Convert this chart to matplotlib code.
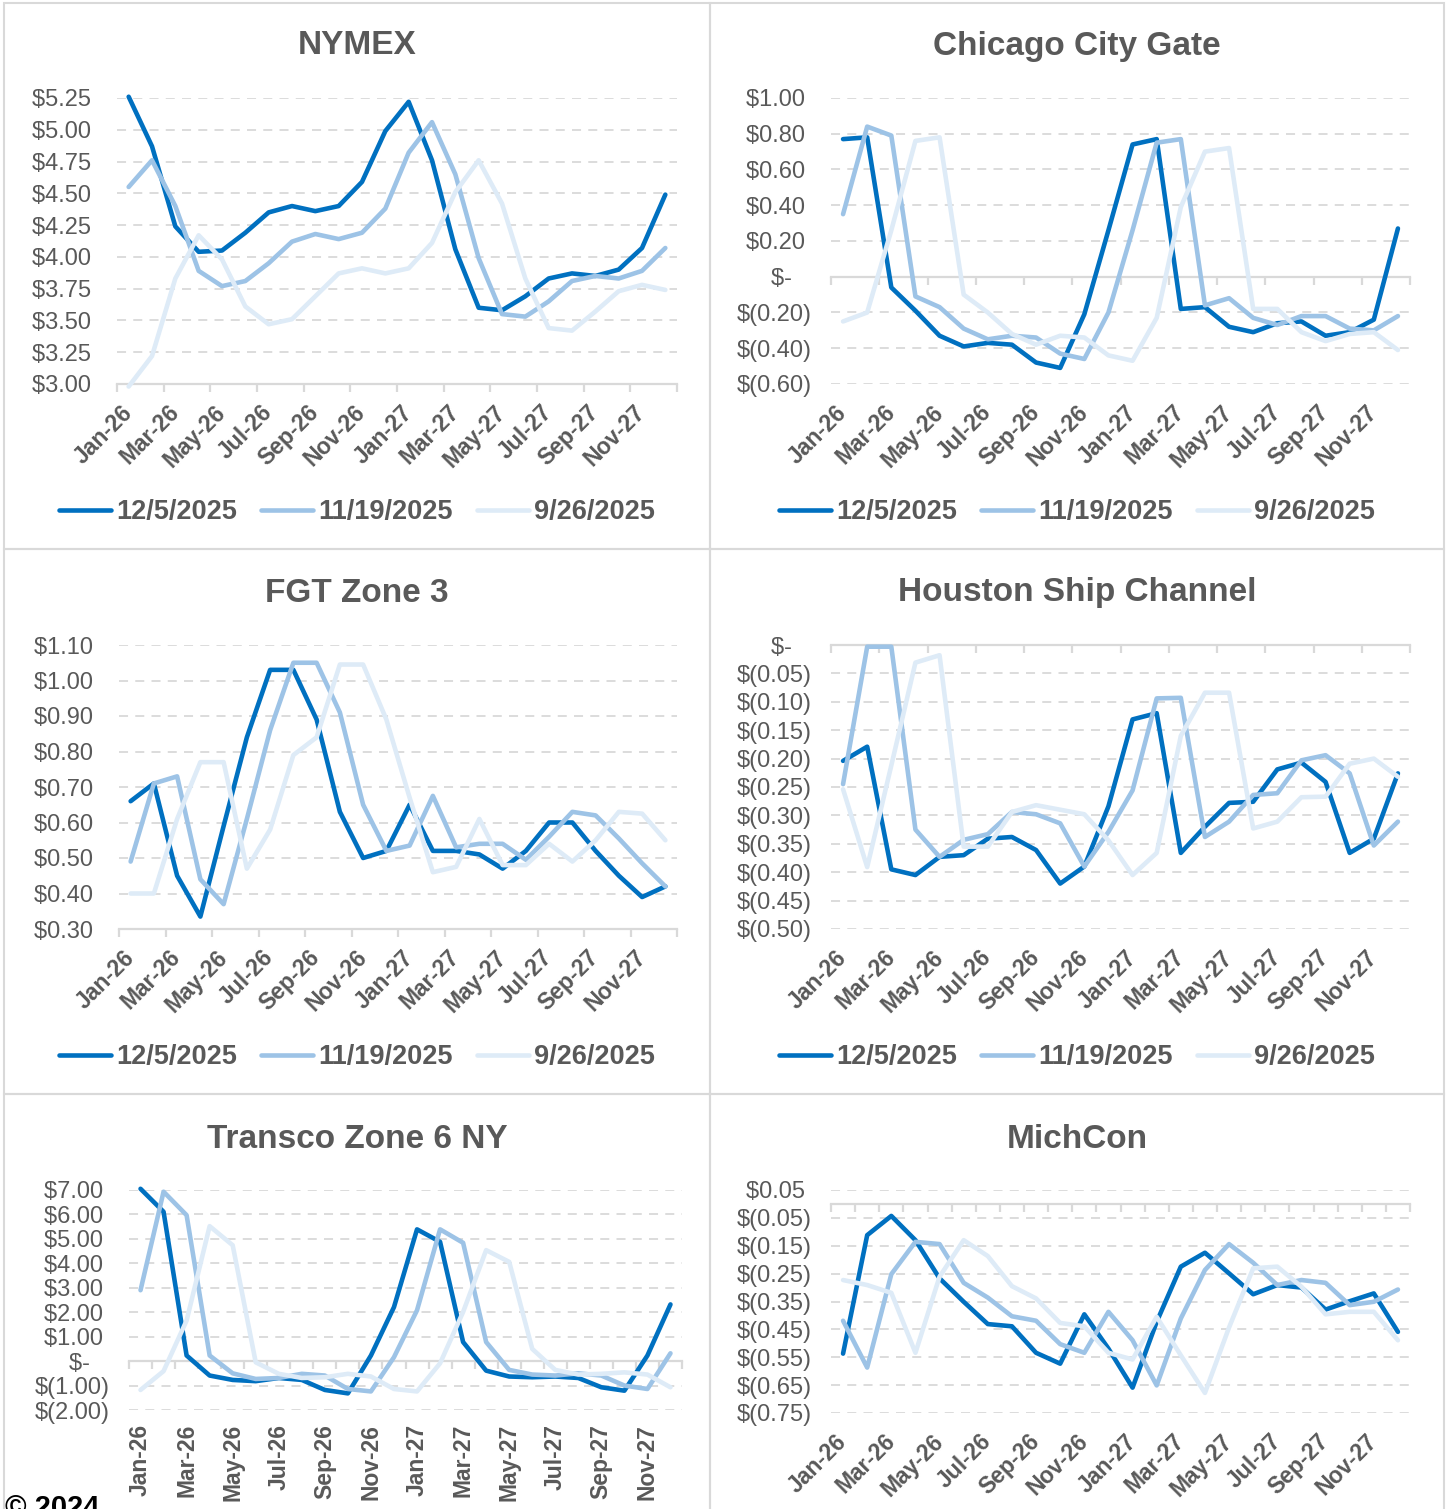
import numpy as np
import matplotlib
matplotlib.use("Agg")
import matplotlib.pyplot as plt
from matplotlib.ticker import FuncFormatter, FixedLocator, NullFormatter
from matplotlib.patches import Rectangle

plt.rcParams['font.family'] = ['Liberation Sans', 'DejaVu Sans']

# ---------------- data ----------------
months = ['Jan-26', 'Feb-26', 'Mar-26', 'Apr-26', 'May-26', 'Jun-26', 'Jul-26', 'Aug-26',
          'Sep-26', 'Oct-26', 'Nov-26', 'Dec-26', 'Jan-27', 'Feb-27', 'Mar-27', 'Apr-27',
          'May-27', 'Jun-27', 'Jul-27', 'Aug-27', 'Sep-27', 'Oct-27', 'Nov-27', 'Dec-27']
series_labels = ['12/5/2025', '11/19/2025', '9/26/2025']

nymex_1205 = [5.26, 4.87, 4.24, 4.04, 4.05, 4.19, 4.35, 4.40, 4.36, 4.40, 4.59, 4.99,
              5.22, 4.76, 4.06, 3.60, 3.58, 3.69, 3.83, 3.87, 3.85, 3.90, 4.07, 4.49]
nymex_1119 = [4.55, 4.76, 4.40, 3.89, 3.77, 3.81, 3.95, 4.12, 4.18, 4.14, 4.19, 4.38,
              4.82, 5.06, 4.65, 3.99, 3.55, 3.53, 3.65, 3.81, 3.85, 3.83, 3.89, 4.07]
nymex_0926 = [2.98, 3.22, 3.83, 4.17, 3.98, 3.61, 3.47, 3.51, 3.69, 3.87, 3.91, 3.87,
              3.91, 4.11, 4.51, 4.76, 4.42, 3.83, 3.44, 3.42, 3.57, 3.73, 3.78, 3.74]

chicago_1205 = [0.77, 0.78, -0.06, -0.19, -0.33, -0.39, -0.37, -0.38, -0.48, -0.51, -0.21, 0.26,
                0.74, 0.77, -0.18, -0.17, -0.28, -0.31, -0.26, -0.25, -0.33, -0.31, -0.24, 0.27]
chicago_1119 = [0.35, 0.84, 0.79, -0.11, -0.17, -0.29, -0.35, -0.33, -0.34, -0.43, -0.46, -0.20,
                0.26, 0.75, 0.77, -0.16, -0.12, -0.23, -0.27, -0.22, -0.22, -0.29, -0.30, -0.22]
chicago_0926 = [-0.25, -0.20, 0.26, 0.76, 0.78, -0.10, -0.20, -0.32, -0.38, -0.33, -0.34, -0.44,
                -0.47, -0.23, 0.39, 0.70, 0.72, -0.18, -0.18, -0.31, -0.36, -0.32, -0.31, -0.41]

fgt3_1205 = [0.66, 0.71, 0.45, 0.335, 0.59, 0.84, 1.03, 1.03, 0.89, 0.63, 0.50, 0.52,
             0.65, 0.52, 0.52, 0.51, 0.47, 0.52, 0.60, 0.60, 0.52, 0.45, 0.39, 0.42]
fgt3_1119 = [0.49, 0.71, 0.73, 0.44, 0.37, 0.61, 0.86, 1.05, 1.05, 0.91, 0.65, 0.52,
             0.535, 0.675, 0.53, 0.54, 0.54, 0.495, 0.56, 0.63, 0.62, 0.555, 0.485, 0.42]
fgt3_0926 = [0.40, 0.40, 0.61, 0.77, 0.77, 0.47, 0.58, 0.79, 0.84, 1.045, 1.045, 0.89,
             0.67, 0.46, 0.475, 0.61, 0.48, 0.48, 0.54, 0.49, 0.55, 0.63, 0.625, 0.55]

hsc_1205 = [-0.204, -0.179, -0.395, -0.405, -0.373, -0.370, -0.341, -0.338, -0.361, -0.420, -0.390, -0.284,
            -0.131, -0.120, -0.366, -0.320, -0.278, -0.276, -0.219, -0.207, -0.241, -0.366, -0.341, -0.226]
hsc_1119 = [-0.245, -0.003, -0.003, -0.325, -0.373, -0.343, -0.333, -0.294, -0.298, -0.314, -0.390, -0.329,
            -0.256, -0.094, -0.093, -0.338, -0.311, -0.264, -0.261, -0.203, -0.194, -0.226, -0.353, -0.311]
hsc_0926 = [-0.254, -0.391, -0.212, -0.031, -0.018, -0.355, -0.355, -0.294, -0.282, -0.290, -0.298, -0.344,
            -0.405, -0.366, -0.160, -0.084, -0.084, -0.323, -0.311, -0.268, -0.267, -0.209, -0.200, -0.232]

transco6_1205 = [7.05, 6.11, 0.23, -0.59, -0.77, -0.82, -0.69, -0.77, -1.18, -1.32, 0.23, 2.21,
                 5.39, 4.88, 0.78, -0.39, -0.63, -0.66, -0.63, -0.69, -1.07, -1.21, 0.23, 2.32]
transco6_1119 = [2.90, 6.93, 5.97, 0.23, -0.50, -0.73, -0.69, -0.52, -0.59, -1.14, -1.24, 0.16,
                 2.08, 5.39, 4.84, 0.78, -0.36, -0.55, -0.59, -0.50, -0.59, -1.00, -1.14, 0.32]
transco6_0926 = [-1.18, -0.41, 1.66, 5.52, 4.74, -0.05, -0.52, -0.69, -0.66, -0.52, -0.63, -1.14,
                 -1.24, -0.09, 2.01, 4.54, 4.06, 0.50, -0.36, -0.55, -0.52, -0.46, -0.55, -1.07]

michcon_1205 = [-0.537, -0.112, -0.043, -0.130, -0.267, -0.351, -0.431, -0.439, -0.534, -0.573, -0.396, -0.519,
                -0.659, -0.423, -0.225, -0.175, -0.249, -0.324, -0.291, -0.300, -0.379, -0.349, -0.321, -0.459]
michcon_1119 = [-0.419, -0.587, -0.252, -0.136, -0.144, -0.283, -0.336, -0.403, -0.419, -0.503, -0.534, -0.387,
                -0.489, -0.651, -0.411, -0.237, -0.144, -0.211, -0.291, -0.273, -0.283, -0.363, -0.351, -0.307]
michcon_0926 = [-0.273, -0.291, -0.319, -0.534, -0.261, -0.130, -0.187, -0.295, -0.339, -0.427, -0.439, -0.534,
                -0.558, -0.405, -0.543, -0.678, -0.443, -0.231, -0.225, -0.297, -0.396, -0.387, -0.387, -0.489]

# ---------------- styling ----------------
W, H = 1451, 1509
colors = ['#0070C0', '#9DC3E6', '#DEEBF7']
GRAY = '#595959'
LINEGRAY = '#d9d9d9'

fig = plt.figure(figsize=(W / 100, H / 100), dpi=100)
fig.patch.set_facecolor('white')


def acct(v, pos):
    if abs(v) < 1e-9:
        return '$-   '
    if v < 0:
        return '$({:.2f})'.format(abs(v))
    return '${:.2f} '.format(v)


def panel(title, data, box, ylo, yhi, step, cx, title_y, legend_y,
          rot=45, minor_every=2, zero_axis=False, label_pad=18):
    x0, y0, x1, y1 = box
    ax = fig.add_axes([x0 / W, 1 - y1 / H, (x1 - x0) / W, (y1 - y0) / H])
    x = np.arange(len(months))
    for vals, c, lab in zip(data, colors, series_labels):
        ax.plot(x, vals, color=c, lw=3.3, label=lab, solid_joinstyle='round',
                solid_capstyle='round', clip_on=False, zorder=3)
    ax.set_xlim(-0.5, len(months) - 0.5)
    ax.set_ylim(ylo, yhi)
    nticks = int(round((yhi - ylo) / step))
    ax.set_yticks([round(ylo + i * step, 4) for i in range(nticks + 1)])
    ax.yaxis.set_major_formatter(FuncFormatter(acct))
    ax.tick_params(axis='y', length=0, pad=14, labelsize=17, labelcolor=GRAY)
    ax.yaxis.grid(True, color=LINEGRAY, lw=1.3, linestyle=(0, (5, 4)))
    ax.set_axisbelow(True)
    for s in ax.spines.values():
        s.set_visible(False)

    ax.set_xticks(x[::2])
    ax.set_xticklabels(months[::2], rotation=rot, ha='right', va='center',
                       rotation_mode='anchor', fontweight='bold', fontsize=16.5, color=GRAY)
    ax.tick_params(axis='x', which='major', length=0, pad=label_pad)
    bounds = np.arange(-0.5, len(months), minor_every)

    if not zero_axis:
        ax.spines['bottom'].set_visible(True)
        ax.spines['bottom'].set_color(LINEGRAY)
        ax.spines['bottom'].set_linewidth(1.6)
        ax.set_xticks(bounds, minor=True)
        ax.tick_params(axis='x', which='minor', length=6, width=1.6,
                       color=LINEGRAY, direction='out')
    else:
        pos = (0 - ylo) / (yhi - ylo)
        sec = ax.secondary_xaxis(pos)
        sec.xaxis.set_major_locator(FixedLocator(bounds))
        sec.xaxis.set_major_formatter(NullFormatter())
        sec.tick_params(axis='x', length=6, width=1.6, color=LINEGRAY,
                        direction='in' if pos >= 0.5 else 'out',
                        labelbottom=False, labeltop=False)
        for s in sec.spines.values():
            s.set_color(LINEGRAY)
            s.set_linewidth(1.6)
        sec.set_zorder(ax.get_zorder() - 0.5)

    fig.text(cx / W, 1 - title_y / H, title, ha='center', va='center',
             fontsize=24, fontweight='bold', color=GRAY)
    if legend_y is not None:
        ax.legend(loc='center', bbox_to_anchor=(cx / W, 1 - legend_y / H),
                  bbox_transform=fig.transFigure, ncol=3, frameon=False,
                  handlelength=1.9, handletextpad=0.2, columnspacing=0.9,
                  prop={'weight': 'bold', 'size': 19.5}, labelcolor=GRAY)
    return ax


# panel frames
cols = [(4, 710), (710, 1444)]
rows = [(3, 549), (549, 1094), (1094, 1540)]
for (cxa, cxb) in cols:
    for (rya, ryb) in rows:
        fig.add_artist(Rectangle((cxa / W, 1 - ryb / H), (cxb - cxa) / W, (ryb - rya) / H,
                                 transform=fig.transFigure, fill=False,
                                 edgecolor=LINEGRAY, lw=1.5, zorder=0))

CX1, CX2 = 357, 1077

panel('NYMEX', [nymex_1205, nymex_1119, nymex_0926], (117, 98, 677, 384),
      3.00, 5.25, 0.25, CX1, 46, 512)
panel('Chicago City Gate', [chicago_1205, chicago_1119, chicago_0926], (831, 98, 1410, 384),
      -0.60, 1.00, 0.20, CX2, 46, 512, zero_axis=True)
panel('FGT Zone 3', [fgt3_1205, fgt3_1119, fgt3_0926], (119, 645, 677, 929),
      0.30, 1.10, 0.10, CX1, 593, 1057)
panel('Houston Ship Channel', [hsc_1205, hsc_1119, hsc_0926], (831, 645, 1410, 929),
      -0.50, 0.00, 0.05, CX2, 593, 1057, zero_axis=True)
panel('Transco Zone 6 NY', [transco6_1205, transco6_1119, transco6_0926], (129, 1190, 682, 1410),
      -2.00, 7.00, 1.00, CX1, 1139, None, rot=90, minor_every=1, zero_axis=True, label_pad=10)
panel('MichCon', [michcon_1205, michcon_1119, michcon_0926], (831, 1190, 1410, 1413),
      -0.75, 0.05, 0.10, CX2, 1139, None, minor_every=1, zero_axis=True)

fig.text(5 / W, 1 - 1494 / H, '© 2024', ha='left', va='top', fontsize=21,
         fontweight='bold', color='black')

fig.savefig('out.png', dpi=100, facecolor='white')
